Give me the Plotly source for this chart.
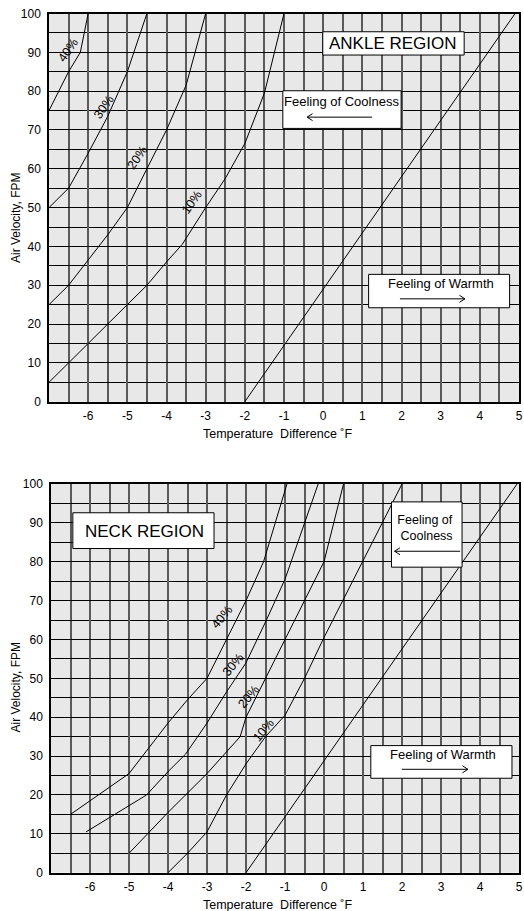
import plotly.graph_objects as go

# ---------------- DATA ----------------
# Ankle region curves (temperature difference F, air velocity FPM)
ankle_40_t = [-7, -6.5, -6.2, -6.0]
ankle_40_v = [75, 85, 90, 100]
ankle_30_t = [-7, -6.5, -6, -5.5, -5, -4.5]
ankle_30_v = [50, 55, 64, 73.5, 85, 100]
ankle_20_t = [-7, -6.5, -6, -5.5, -5, -4.5, -4, -3.5, -3]
ankle_20_v = [25, 30, 36.5, 43, 50, 60, 70, 81.5, 100]
ankle_10_t = [-7, -6.5, -6, -5.5, -5, -4.5, -4, -3.6, -3, -2.5, -2, -1.5, -1]
ankle_10_v = [5, 10, 15, 20, 25, 30, 36, 40.5, 50, 57.5, 66.5, 79.5, 100]
ankle_0_t = [-2, 4.9]
ankle_0_v = [0, 100]

# Neck region curves
neck_40_t = [-6.5, -5, -4.5, -4, -3.5, -3, -2.5, -2, -1.55, -0.95]
neck_40_v = [15, 25.5, 32, 38.5, 44.5, 50, 60, 70, 80, 100]
neck_30_t = [-6.1, -4.55, -4, -3.55, -3, -2.5, -2, -1.5, -1, -0.15]
neck_30_v = [10.5, 20, 26, 30.5, 38.5, 46.5, 54, 64.5, 75.5, 100]
neck_20_t = [-5, -4, -3, -2.15, -2, -1.5, -1, -0.5, 0, 0.5]
neck_20_v = [5, 15.5, 25.5, 35, 40, 50, 60, 70, 80, 100]
neck_10_t = [-4, -3.5, -3, -2.5, -2, -1.5, -1, -0.5, 0, 2]
neck_10_v = [0, 5, 10.5, 20, 28, 35, 40.5, 50, 60.5, 100]
neck_0_t = [-2, 4.95]
neck_0_v = [0, 100]

x_tick_vals = [-6, -5, -4, -3, -2, -1, 0, 1, 2, 3, 4, 5]
x_tick_text = ["-6", "-5", "-4", "-3", "-2", "-1", "0", "1", "2", "3", "4", "5"]
y_tick_vals = [0, 10, 20, 30, 40, 50, 60, 70, 80, 90, 100]

curve_labels = ["40%", "30%", "20%", "10%"]

# ---------------- FIGURE ----------------
W, H = 524, 911
FONT = "Liberation Sans, Arial, Helvetica, sans-serif"
fig = go.Figure()


def add_curve(t, v, xa, ya):
    fig.add_trace(go.Scatter(x=t, y=v, mode="lines",
                             line=dict(color="black", width=1),
                             xaxis=xa, yaxis=ya, showlegend=False,
                             hoverinfo="skip"))


for t, v in [(ankle_40_t, ankle_40_v), (ankle_30_t, ankle_30_v),
             (ankle_20_t, ankle_20_v), (ankle_10_t, ankle_10_v),
             (ankle_0_t, ankle_0_v)]:
    add_curve(t, v, "x", "y")
for t, v in [(neck_40_t, neck_40_v), (neck_30_t, neck_30_v),
             (neck_20_t, neck_20_v), (neck_10_t, neck_10_v),
             (neck_0_t, neck_0_v)]:
    add_curve(t, v, "x2", "y2")

VGRID = "#5a5a5a"


def xaxis_cfg(domain, anchor):
    return dict(domain=domain, anchor=anchor, range=[-7, 5], automargin=False,
                tickmode="array", tickvals=x_tick_vals, ticktext=x_tick_text,
                showgrid=True, gridcolor=VGRID, gridwidth=2,
                minor=dict(tickmode="linear", tick0=-7, dtick=0.5,
                           showgrid=True, gridcolor=VGRID, gridwidth=2),
                showline=True, linecolor="black", linewidth=1.5, mirror=True,
                ticks="outside", ticklen=2, tickcolor="rgba(0,0,0,0)",
                ticklabeloverflow="allow",
                tickfont=dict(family=FONT, size=12, color="black"),
                zeroline=False, fixedrange=True)


def yaxis_cfg(domain, anchor):
    return dict(domain=domain, anchor=anchor, range=[0, 100], automargin=False,
                tickmode="array", tickvals=y_tick_vals,
                showgrid=True, gridcolor="black", gridwidth=1.4,
                minor=dict(tickmode="linear", tick0=0, dtick=5,
                           showgrid=True, gridcolor="black", gridwidth=1.4),
                showline=True, linecolor="black", linewidth=1.5, mirror=True,
                ticks="outside", ticklen=4, tickcolor="rgba(0,0,0,0)",
                tickfont=dict(family=FONT, size=12, color="black"),
                zeroline=False, fixedrange=True)


top_x = [49 / W, 519 / W]
top_y = [1 - 401.7 / H, 1 - 13.5 / H]
bot_x = [51 / W, 519 / W]
bot_y = [1 - 872.7 / H, 1 - 484 / H]

fig.update_layout(
    width=W, height=H,
    margin=dict(l=0, r=0, t=0, b=0, autoexpand=False),
    paper_bgcolor="white", plot_bgcolor="#e8e8e8",
    font=dict(family=FONT, color="black"),
    xaxis=xaxis_cfg(top_x, "y"),
    yaxis=yaxis_cfg(top_y, "x"),
    xaxis2=xaxis_cfg(bot_x, "y2"),
    yaxis2=yaxis_cfg(bot_y, "x2"),
)

annotations = []
shapes = []

# curve labels
top_label_pos = [(-6.5, 90.5), (-5.6, 76), (-4.75, 62.8), (-3.35, 51.5)]
bot_label_pos = [(-2.62, 65.9), (-2.33, 53.4), (-1.94, 45.3), (-1.54, 36.7)]
for lab, (x, y) in zip(curve_labels, top_label_pos):
    annotations.append(dict(x=x, y=y, xref="x", yref="y", text=lab,
                            textangle=-55, showarrow=False,
                            xanchor="center", yanchor="middle",
                            font=dict(size=12.5, family=FONT, color="black")))
for lab, (x, y) in zip(curve_labels, bot_label_pos):
    annotations.append(dict(x=x, y=y, xref="x2", yref="y2", text=lab,
                            textangle=-50, showarrow=False,
                            xanchor="center", yanchor="middle",
                            font=dict(size=12.5, family=FONT, color="black")))


def box(xr, yr, x0, x1, y0, y1):
    shapes.append(dict(type="rect", xref=xr, yref=yr, x0=x0, x1=x1, y0=y0, y1=y1,
                       fillcolor="white", line=dict(color="black", width=1),
                       layer="above"))


def text(xr, yr, x, y, s, size):
    annotations.append(dict(x=x, y=y, xref=xr, yref=yr, text=s, showarrow=False,
                            xanchor="center", yanchor="middle",
                            font=dict(size=size, family=FONT, color="black")))


def arrow(xr, yr, x0, x1, y, left, dx, dy):
    shapes.append(dict(type="line", xref=xr, yref=yr, x0=x0, x1=x1, y0=y, y1=y,
                       line=dict(color="black", width=1), layer="above"))
    if left:
        p = f"M {x0 + dx},{y + dy} L {x0},{y} L {x0 + dx},{y - dy}"
    else:
        p = f"M {x1 - dx},{y + dy} L {x1},{y} L {x1 - dx},{y - dy}"
    shapes.append(dict(type="path", xref=xr, yref=yr, path=p,
                       line=dict(color="black", width=1), layer="above"))


# Top (ankle) panel boxes
box("x", "y", -0.01, 3.6, 89.3, 95.3)
text("x", "y", 1.79, 92.3, "ANKLE REGION", 17)
box("x", "y", -1.03, 1.99, 70.4, 80.1)
text("x", "y", 0.48, 77.4, "Feeling of Coolness", 13)
arrow("x", "y", -0.41, 1.25, 73.3, True, 0.14, 0.9)
box("x", "y", 1.16, 4.76, 24.2, 32.8)
text("x", "y", 3.0, 30.4, "Feeling of Warmth", 13)
arrow("x", "y", 1.96, 3.62, 26.5, False, 0.14, 0.9)

# Bottom (neck) panel boxes
box("x2", "y2", -6.44, -2.82, 83.4, 92.6)
text("x2", "y2", -4.6, 87.9, "NECK REGION", 17)
box("x2", "y2", 1.73, 3.54, 78.6, 95.4)
text("x2", "y2", 2.6, 88.6, "Feeling of<br> Coolness", 12.5)
arrow("x2", "y2", 1.81, 3.49, 82.7, True, 0.14, 0.9)
box("x2", "y2", 1.2, 4.82, 24.3, 32.7)
text("x2", "y2", 3.06, 30.4, "Feeling of Warmth", 13)
arrow("x2", "y2", 2.0, 3.69, 26.6, False, 0.14, 0.9)

# Axis titles
for yc in [218.5, 688]:
    annotations.append(dict(x=15.5 / W, y=1 - yc / H, xref="paper", yref="paper",
                            text="Air Velocity, FPM", textangle=-90, showarrow=False,
                            xanchor="center", yanchor="middle",
                            font=dict(size=12, family=FONT, color="black")))
for yc in [434, 905]:
    annotations.append(dict(x=277.5 / W, y=1 - yc / H, xref="paper", yref="paper",
                            text="Temperature  Difference \u02daF", showarrow=False,
                            xanchor="center", yanchor="middle",
                            font=dict(size=12.5, family=FONT, color="black")))

fig.update_layout(annotations=annotations, shapes=shapes)

fig.write_html(
    "out.html",
    config={"displayModeBar": False},
    post_script="document.body.style.margin='0px';document.body.style.overflow='hidden';",
)
